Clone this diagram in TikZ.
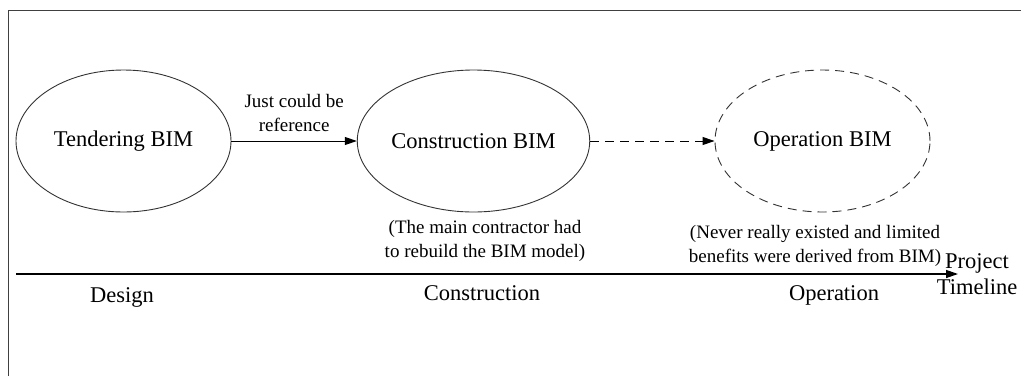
\documentclass[tikz,border=0pt]{standalone}
\usepackage{fontspec}
\setmainfont{Liberation Serif}
\usetikzlibrary{shapes.geometric,arrows.meta}
\begin{document}
\begin{tikzpicture}[x=1pt,y=-1pt,
  bim/.style={draw=black!80,ellipse,minimum width=215pt,minimum height=142pt,inner sep=0pt,font=\fontsize{22.5}{26}\selectfont,line width=0.9pt},
  note/.style={align=center,font=\fontsize{19}{23.5}\selectfont,inner sep=0pt},
  phase/.style={font=\fontsize{22.5}{26}\selectfont,inner sep=0pt},
  arr/.style={line width=1pt,-{Triangle[length=12pt,width=8pt]}}]
\useasboundingbox (0,0) rectangle (1021,376);
\draw[line width=1pt,black!75] (8.5,376) -- (8.5,10) -- (1021,10);
\node[bim] (tb) at (123.5,141) {Tendering BIM};
\node[bim] (cb) at (473.5,141) {Construction BIM};
\node[bim,dashed,dash pattern=on 9pt off 6pt] (ob) at (822.5,141) {Operation BIM};
\draw[arr] (tb) -- (cb) node[midway,above=9pt,note] (jl) {Just could be\\reference};
\draw[arr,dashed,dash pattern=on 9pt off 6pt] (cb) -- (ob);
\node[note] (cn) at (485,241) {(The main contractor had\\to rebuild the BIM model)};
\node[note] (on) at (815,246) {(Never really existed and limited\\benefits were derived from BIM)};
\coordinate (ts) at (16,274);
\coordinate (te) at (958,274);
\draw[arr,line width=1.3pt] (ts) -- (te);
\node[phase,align=center] (pt) at (977,274) {Project\\Timeline};
\node[phase] (d) at (122,297) {Design};
\node[phase] (c) at (482,293) {Construction};
\node[phase] (o) at (834,295) {Operation};
\end{tikzpicture}
\end{document}
